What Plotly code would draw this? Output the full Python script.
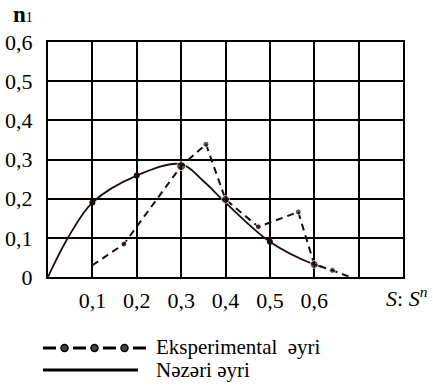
import plotly.graph_objects as go

# Theoretical curve (solid)
theo_x = [0.0, 0.045, 0.1, 0.2, 0.3, 0.35, 0.4, 0.5, 0.6, 0.62]
theo_y = [0.0, 0.10, 0.19, 0.259, 0.288, 0.245, 0.19, 0.09, 0.032, 0.026]
theo_pts_x = [0.1, 0.2, 0.5]
theo_pts_y = [0.19, 0.259, 0.09]

# Experimental curve (dashed)
exp_x = [0.1, 0.171, 0.3, 0.356, 0.4, 0.474, 0.564, 0.6, 0.641, 0.68]
exp_y = [0.03, 0.084, 0.283, 0.339, 0.198, 0.128, 0.166, 0.032, 0.017, 0.0]
exp_marker_size = [0, 6, 9, 6, 8, 6, 6, 8, 6, 0]

x_ticks = [0.1, 0.2, 0.3, 0.4, 0.5, 0.6, 0.7]
x_ticktext = ["0,1", "0,2", "0,3", "0,4", "0,5", "0,6", " "]
y_ticks = [0.0, 0.1, 0.2, 0.3, 0.4, 0.5, 0.6]
y_ticktext = ["0", "0,1", "0,2", "0,3", "0,4", "0,5", "0,6"]

INK = "#1e0c0c"
FONT = "Liberation Serif"

fig = go.Figure()
fig.add_trace(go.Scatter(x=theo_x, y=theo_y, mode="lines",
                         line=dict(color=INK, width=1.8, shape="spline", smoothing=1.0),
                         showlegend=False, hoverinfo="skip"))
fig.add_trace(go.Scatter(x=theo_pts_x, y=theo_pts_y, mode="markers",
                         marker=dict(color=INK, size=6), showlegend=False))
fig.add_trace(go.Scatter(x=exp_x, y=exp_y, mode="lines+markers",
                         line=dict(color=INK, width=2, dash="7px,5px"),
                         marker=dict(color=INK, size=exp_marker_size),
                         showlegend=False, cliponaxis=False))

axis_common = dict(showgrid=True, gridcolor="black", gridwidth=2,
                   showline=True, linecolor="black", linewidth=2, mirror=True,
                   zeroline=False, ticks="outside", tickcolor="rgba(0,0,0,0)",
                   automargin=False,
                   tickfont=dict(family=FONT, size=22, color="black"))
fig.update_xaxes(range=[0, 0.8], tickvals=x_ticks, ticktext=x_ticktext, ticklen=3, **axis_common)
fig.update_yaxes(range=[0, 0.6], tickvals=y_ticks, ticktext=y_ticktext, ticklen=9, **axis_common)

def px_x(p):
    return (p - 48) / 355.0

def px_y(p):
    return (277 - p) / 235.0

annotations = [
    dict(text="<b>n</b><span style='font-size:14px'>1</span>", x=px_x(11), y=px_y(15),
         xanchor="left", yanchor="middle", font=dict(family=FONT, size=23, color="black")),
    dict(text="<i>S</i>: <i>S</i><sup><i>n</i></sup>", x=px_x(384), y=px_y(297),
         xanchor="left", yanchor="middle", font=dict(family=FONT, size=22, color="black")),
    dict(text="Eksperimental  əyri", x=px_x(154), y=px_y(347),
         xanchor="left", yanchor="middle", font=dict(family=FONT, size=21, color="black")),
    dict(text="Nəzəri əyri", x=px_x(154), y=px_y(370),
         xanchor="left", yanchor="middle", font=dict(family=FONT, size=21, color="black")),
]
for a in annotations:
    a.update(xref="paper", yref="paper", showarrow=False)

shapes = [
    dict(type="line", xref="paper", yref="paper", x0=px_x(43), x1=px_x(146),
         y0=px_y(348), y1=px_y(348), line=dict(color="black", width=3, dash="13px,17px")),
    dict(type="line", xref="paper", yref="paper", x0=px_x(43), x1=px_x(138),
         y0=px_y(370), y1=px_y(370), line=dict(color="black", width=3)),
]
for cx in [64.5, 94.5, 124.5]:
    shapes.append(dict(type="circle", xref="paper", yref="paper",
                       x0=px_x(cx - 3.5), x1=px_x(cx + 3.5), y0=px_y(348 + 3.5), y1=px_y(348 - 3.5),
                       line=dict(color="black", width=1.5), fillcolor="#444"))

fig.update_layout(width=433, height=389, margin=dict(l=48, r=30, t=42, b=112),
                  paper_bgcolor="white", plot_bgcolor="white",
                  annotations=annotations, shapes=shapes, showlegend=False)
fig.write_html("out.html", config={"displayModeBar": False},
               post_script="document.body.style.margin='0';document.body.style.padding='0';")
